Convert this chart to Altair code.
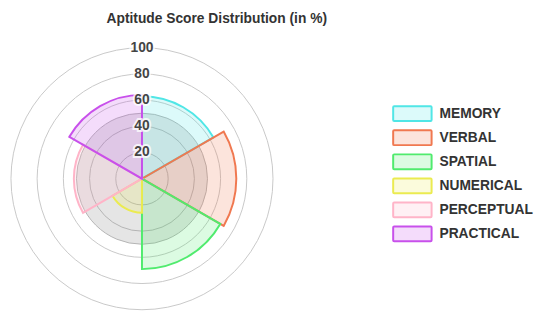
import math
import altair as alt
import pandas as pd

# ---- data ----
categories = ["MEMORY", "VERBAL", "SPATIAL", "NUMERICAL", "PERCEPTUAL", "PRACTICAL"]
scores = [63, 72, 69, 26, 52, 64]
series_colors = ["#50e6e6", "#f07850", "#50eb6e", "#ebeb50", "#ffb4c8", "#c850eb"]
grid_values = [20, 40, 60, 80, 100]
tick_labels = ["20", "40", "60", "80", "100"]
band_values = [50]
title_text = "Aptitude Score Distribution (in %)"

# ---- layout/style ----
CX, CY = 136, 171
FONT = "Liberation Sans, Arial, Helvetica, sans-serif"
N = len(categories)

df = pd.DataFrame({
    "cat": categories,
    "score": scores,
    "start": list(range(N)),
    "end": [i + 1 for i in range(N)],
})
grid_df = pd.DataFrame({"r": grid_values, "label": tick_labels,
                        "start": [0] * len(grid_values), "end": [N] * len(grid_values)})
band_df = pd.DataFrame({"r": band_values, "start": [0], "end": [N]})
title_df = pd.DataFrame({"t": [title_text]})

tscale = alt.Scale(domain=[0, N], range=[0, 2 * math.pi])
rscale = alt.Scale(type="linear", domain=[0, 100], range=[0, 133], zero=True)
cscale = alt.Scale(domain=categories, range=series_colors)
yscale = alt.Scale(domain=categories, range=[92.8, 239.2], paddingInner=0.385, paddingOuter=0.1925)

def full_arc(data):
    return alt.Chart(data).encode(
        theta=alt.Theta("start:Q", scale=tscale),
        theta2="end:Q",
        radius=alt.Radius("r:Q", scale=rscale),
    )

rings = full_arc(grid_df).mark_arc(
    x=CX, y=CY, fill="white", fillOpacity=0, stroke="#c8c8c8", strokeWidth=1
)

band = full_arc(band_df).mark_arc(
    x=CX, y=CY, fill="#000000", fillOpacity=0.1, stroke="#b4b4b4", strokeWidth=1
)

slices = alt.Chart(df).mark_arc(
    x=CX, y=CY, fillOpacity=0.2, strokeWidth=2, strokeJoin="miter"
).encode(
    theta=alt.Theta("start:Q", scale=tscale),
    theta2="end:Q",
    radius=alt.Radius("score:Q", scale=rscale),
    fill=alt.Fill("cat:N", scale=cscale, legend=None),
    stroke=alt.Stroke("cat:N", scale=cscale, legend=None),
)

label_base = alt.Chart(grid_df).encode(
    theta=alt.Theta("start:Q", scale=tscale),
    radius=alt.Radius("r:Q", scale=rscale),
    text="label:N",
)

label_halo = label_base.mark_text(
    x=CX, y=CY, font=FONT, fontSize=14, fontWeight="bold",
    stroke="white", strokeWidth=4, strokeOpacity=0.75, fill="white",
    align="center", baseline="middle"
)

labels = label_base.mark_text(
    x=CX, y=CY, font=FONT, fontSize=14, fontWeight="bold",
    color="#444444", align="center", baseline="middle"
)

legend_boxes = alt.Chart(df).mark_rect(
    x=391, x2=430, fillOpacity=0.2, strokeWidth=2, cornerRadius=1
).encode(
    y=alt.Y("cat:N", scale=yscale, axis=None),
    fill=alt.Fill("cat:N", scale=cscale, legend=None),
    stroke=alt.Stroke("cat:N", scale=cscale, legend=None),
)

legend_text = alt.Chart(df).mark_text(
    x=438, align="left", baseline="middle", font=FONT, fontSize=14,
    fontWeight="bold", color="#333333"
).encode(
    y=alt.Y("cat:N", scale=yscale, axis=None),
    text="cat:N",
)

title = alt.Chart(title_df).mark_text(
    x=100, y=9, align="left", baseline="middle", font=FONT, fontSize=14,
    fontWeight="bold", color="#333333"
).encode(text="t:N")

chart = alt.layer(
    rings, band, slices, label_halo, labels, legend_boxes, legend_text, title
).properties(
    width=537, height=304, padding=0,
    autosize=alt.AutoSizeParams(type="none"),
).configure_view(stroke=None)

chart.save("out.html", embed_options={"renderer": "svg", "actions": False})
